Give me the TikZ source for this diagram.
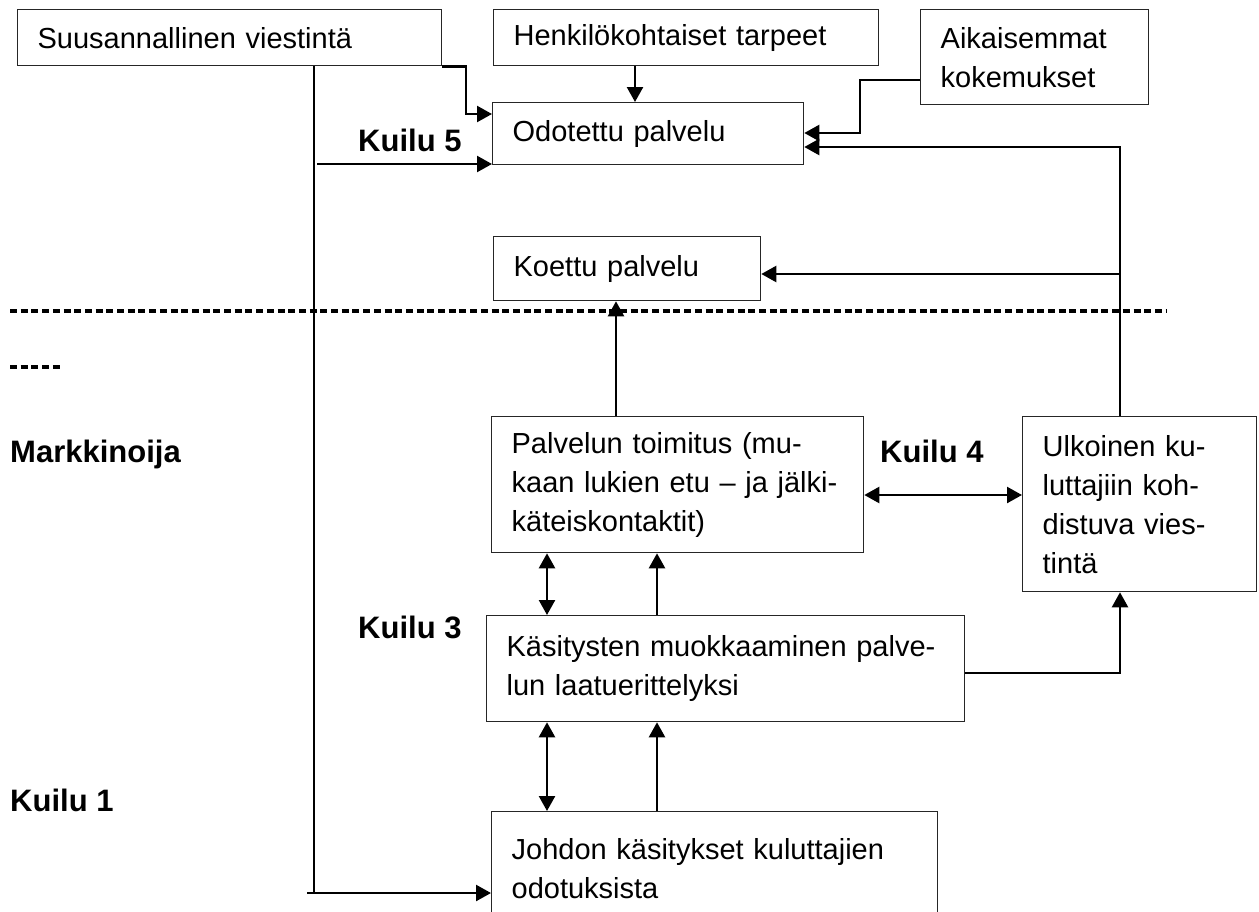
\documentclass[tikz,border=0pt]{standalone}
\usepackage{fontspec}
\setmainfont{Liberation Sans}
\usepackage{tikz}
\usetikzlibrary{arrows.meta}

\newcommand\bodyfont{\fontsize{29}{39}\selectfont}
\newcommand\gapfont{\fontsize{31}{39}\selectfont\bfseries}

\begin{document}
\begin{tikzpicture}[x=1pt, y=-1pt,
  box/.style={draw=black!85, line width=1.3pt, anchor=north west,
              align=left, inner xsep=20pt, inner ysep=0pt, font=\bodyfont},
  gap/.style={anchor=base west, inner sep=0pt, font=\gapfont},
  conn/.style={line width=2.4pt},
  thinconn/.style={line width=1.7pt},
  sepline/.style={line width=3.2pt, dash pattern=on 7pt off 3.7pt},
  >={Triangle[length=15pt,width=16pt]}
]
  \useasboundingbox (0,0) rectangle (1259,911);
  \clip (0,0) rectangle (1259,911);

  % Top row
  \node[box, text width=384pt, minimum height=56pt] (suus) at (17,9)
    {Suusannallinen viestintä};
  \node[box, text width=345pt, minimum height=56pt] (tarpeet) at (493,9)
    {Henkilökohtaiset tarpeet};
  \node[box, text width=188pt, minimum height=95pt] (kokemus) at (920,9)
    {Aikaisemmat\\kokemukset};

  % Customer side
  \node[box, text width=271pt, minimum height=62pt] (odotettu) at (492,102)
    {Odotettu palvelu};
  \node[box, text width=227pt, minimum height=64pt] (koettu) at (493,236)
    {Koettu palvelu};

  % Marketer side
  \node[box, text width=332pt, minimum height=136pt] (toimitus) at (491,416)
    {Palvelun toimitus (mu-\\kaan lukien etu – ja jälki-\\käteiskontaktit)};
  \node[box, text width=194pt, minimum height=175pt] (ulkoinen) at (1022,416)
    {Ulkoinen ku-\\luttajiin koh-\\distuva vies-\\tintä};
  \node[box, text width=438pt, minimum height=106pt] (muokkaus) at (486,615)
    {Käsitysten muokkaaminen palve-\\lun laatuerittelyksi};
  \node[box, text width=406pt, minimum height=114pt] (johdon) at (491,811)
    {Johdon käsitykset kuluttajien\\odotuksista};

  % Gap labels
  \node[gap] (kuilu5) at (358,151) {Kuilu 5};
  \node[gap] (markkinoija) at (10,462) {Markkinoija};
  \node[gap] (kuilu4) at (880,462) {Kuilu 4};
  \node[gap] (kuilu3) at (358,638) {Kuilu 3};
  \node[gap] (kuilu1) at (10,811) {Kuilu 1};

  % Separator
  \draw[sepline] (10,311) -- (1167,311);
  \draw[sepline] (10,367) -- (62,367);

  % Helper coordinates
  \coordinate (s1) at (466,114);
  \coordinate (t1) at (635,0);
  \coordinate (a1) at (860,80);
  \coordinate (a2) at (860,133);
  \coordinate (u1) at (1120,147);
  \coordinate (u2) at (1120,274);
  \coordinate (p1) at (616,0);
  \coordinate (q4) at (0,495);
  \coordinate (c1) at (547,0);
  \coordinate (c2) at (657,0);
  \coordinate (m1) at (1120,673);
  \coordinate (v1) at (314,0);
  \coordinate (v2) at (314,893);
  \coordinate (v0) at (307,893);
  \coordinate (v3) at (317,164);

  % Into expected service
  \draw[conn,->] (suus.south east) -| (s1) -- (s1 -| odotettu.west);
  \draw[conn,->] (t1 |- tarpeet.south) -- (t1 |- odotettu.north);
  \draw[conn,->] (a1 -| kokemus.west) -- (a1) -- (a2) -- (a2 -| odotettu.east);
  \draw[conn,->] (u1 |- ulkoinen.north) -- (u1) -- (u1 -| odotettu.east);
  \draw[conn,->] (u2) -- (u2 -| koettu.east);
  \draw[conn,->] (v3) -- (v3 -| odotettu.west);

  % Marketer connections
  \draw[conn,->] (p1 |- toimitus.north) -- (p1 |- koettu.south);
  \draw[conn,<->] (q4 -| toimitus.east) -- (q4 -| ulkoinen.west);
  \draw[conn,<->] (c1 |- toimitus.south) -- (c1 |- muokkaus.north);
  \draw[conn,->] (c2 |- muokkaus.north) -- (c2 |- toimitus.south);
  \draw[conn,<->] (c1 |- muokkaus.south) -- (c1 |- johdon.north);
  \draw[conn,->] (c2 |- johdon.north) -- (c2 |- muokkaus.south);
  \draw[conn,->] (m1 -| muokkaus.east) -- (m1) -- (m1 |- ulkoinen.south);

  % Word of mouth down to management
  \draw[thinconn] (v1 |- suus.south) -- (v2);
  \draw[conn,->] (v0) -- (v0 -| johdon.west);
\end{tikzpicture}
\end{document}
